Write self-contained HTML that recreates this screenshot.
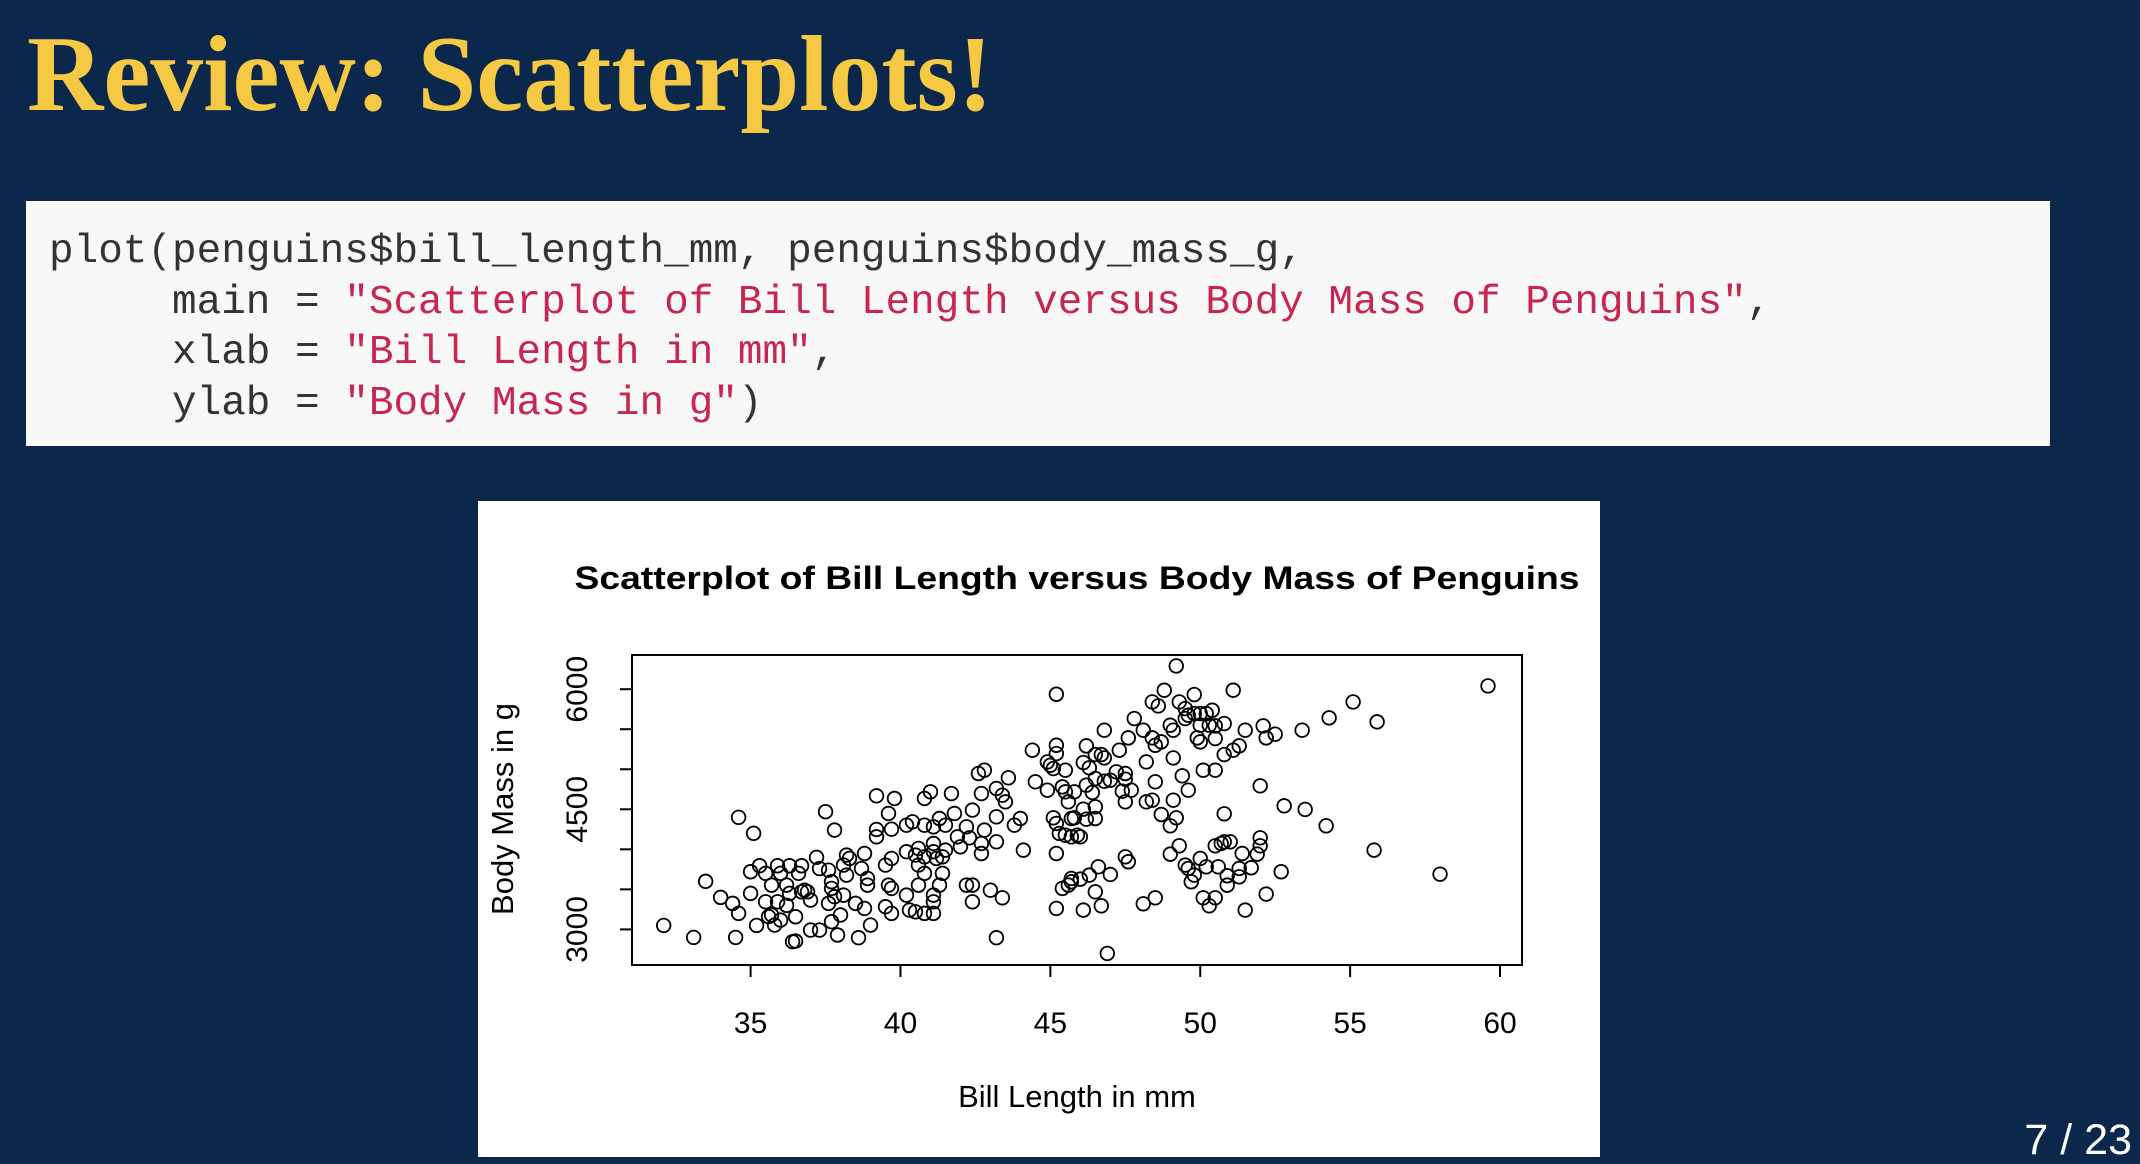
<!DOCTYPE html>
<html><head><meta charset="utf-8"><style>
html,body{margin:0;padding:0;background:#0b274b;}
svg{display:block}
.code text{white-space:pre}
</style></head><body>
<svg id="slide" width="2140" height="1164" viewBox="0 0 2140 1164" xmlns="http://www.w3.org/2000/svg">
<rect x="0" y="0" width="2140" height="1164" fill="#0b274b"/>
<text x="27" y="110" font-family="Liberation Serif, serif" font-weight="bold" font-size="108" fill="#f6c944" textLength="966" lengthAdjust="spacingAndGlyphs">Review: Scatterplots!</text>
<g>
<rect x="26" y="201" width="2024" height="245" fill="#f8f8f8"/>
<g class="code" font-family="Liberation Mono, monospace" font-size="41" fill="#333333">
<text x="49" y="262">plot(penguins$bill_length_mm, penguins$body_mass_g,</text>
<text x="172" y="313">main = <tspan fill="#c9264f">"Scatterplot of Bill Length versus Body Mass of Penguins"</tspan>,</text>
<text x="172" y="363">xlab = <tspan fill="#c9264f">"Bill Length in mm"</tspan>,</text>
<text x="172" y="414">ylab = <tspan fill="#c9264f">"Body Mass in g"</tspan>)</text>
</g>
</g>
<g id="chart">
<rect x="478" y="501" width="1122" height="656" fill="#ffffff"/>
<text x="1077" y="589" text-anchor="middle" font-family="Liberation Sans, sans-serif" font-weight="bold" font-size="32" fill="#000" textLength="1005" lengthAdjust="spacingAndGlyphs">Scatterplot of Bill Length versus Body Mass of Penguins</text>
<rect x="632" y="655" width="890" height="310" fill="none" stroke="#000" stroke-width="2"/>
<g id="xaxis"></g>
<g id="yaxis"></g>
<g id="points"></g>
<text x="1077" y="1107" text-anchor="middle" font-family="Liberation Sans, sans-serif" font-size="31" fill="#000">Bill Length in mm</text>
<text transform="translate(513,809) rotate(-90)" text-anchor="middle" font-family="Liberation Sans, sans-serif" font-size="31" fill="#000">Body Mass in g</text>
</g>
<text x="2132" y="1154" text-anchor="end" font-family="Liberation Sans, sans-serif" font-size="43" fill="#ffffff">7 / 23</text>
</svg>
<script>
const xTicks = [35, 40, 45, 50, 55, 60];
const yTicks = [3000, 3500, 4000, 4500, 5000, 5500, 6000];
const yTickLabels = ["3000", "", "", "4500", "", "", "6000"];
const billLength = [
32.1,33.1,33.5,34.0,34.4,34.6,34.5,34.6,35.1,35.0,35.0,35.2,35.3,35.5,35.5,35.7,35.6,35.7,35.9,36.0,
35.9,35.8,36.0,36.2,36.2,36.3,36.3,36.4,36.5,36.5,36.6,36.7,36.7,36.8,36.9,37.0,37.0,37.3,37.2,37.3,
37.5,37.8,37.6,37.7,37.7,37.8,37.6,37.7,37.9,38.0,38.2,38.3,38.1,38.2,38.1,38.5,38.6,38.7,38.8,38.8,
38.9,38.9,39.0,39.2,39.6,39.8,39.2,39.2,39.7,39.5,39.7,39.6,39.7,39.5,39.7,40.2,40.4,40.2,40.2,40.3,
40.5,40.6,40.6,40.5,40.6,40.8,40.8,41.0,41.1,41.3,41.5,41.7,41.8,40.8,40.8,41.1,41.1,41.2,41.4,41.3,
41.1,41.1,40.8,41.1,41.5,41.4,41.9,42.0,42.2,42.3,42.4,42.6,42.8,42.7,42.8,42.7,42.7,42.4,42.2,42.4,
43.0,43.4,43.2,43.2,43.2,43.2,43.4,43.5,43.6,43.8,44.0,44.1,44.4,44.5,44.9,45.0,45.1,45.2,45.2,45.2,
45.5,44.9,45.4,45.5,45.6,45.1,45.2,45.7,45.3,45.5,45.7,45.2,45.4,45.6,45.7,45.2,
49.2,59.6,48.8,51.1,49.8,48.4,48.6,49.3,49.5,49.6,49.5,49.8,50.0,50.2,50.4,50.0,50.3,50.5,50.8,47.8,
46.8,48.1,49.0,49.1,47.6,48.4,48.7,48.5,49.9,50.0,50.5,51.5,52.1,52.2,52.5,53.4,54.3,55.1,55.9,51.3,
51.1,50.8,50.1,50.5,46.2,46.5,46.7,46.8,47.3,46.1,46.3,48.2,49.1,47.2,47.5,47.5,46.5,46.8,47.0,48.5,
49.4,49.6,46.2,45.8,46.4,47.4,47.7,47.5,48.2,48.4,49.1,46.1,46.5,45.8,46.2,46.5,48.7,49.2,49.0,45.9,
46.0,52.0,50.8,52.8,53.5,54.2,55.8,58.0,47.5,47.6,49.0,49.3,49.5,49.6,50.0,50.2,50.5,50.7,50.8,51.0,
50.6,51.4,52.0,52.0,51.9,51.7,51.3,51.3,50.9,50.9,49.8,49.7,52.7,52.2,50.1,50.5,50.3,51.5,48.5,48.1,
46.6,46.3,47.0,46.0,45.7,46.5,46.7,46.1,46.9
];
const bodyMass = [
3050,2900,3600,3400,3325,3200,2900,4400,4200,3720,3450,3050,3795,3700,3345,3553,3160,3180,3795,3700,
3345,3054,3116,3553,3300,3795,3450,2846,2854,3158,3700,3795,3470,3490,3470,3366,2992,2992,3900,3760,
4470,4240,3740,3595,3512,3408,3325,3096,2930,3180,3928,3886,3803,3678,3428,3325,2896,3760,3948,3262,
3636,3553,3054,4668,4448,4635,4248,4156,4252,3803,3886,3553,3512,3283,3200,4302,4344,3970,3428,3241,
3220,3553,3803,3928,4011,4302,4635,4718,4281,4385,4302,4697,4448,3700,3907,4073,3970,3886,3700,3553,
3428,3345,3200,3200,3990,3907,4156,4032,4281,4144,4490,4947,4989,4697,4240,4073,3948,3553,3553,3345,
3490,3395,2896,4094,4406,4760,4676,4593,4893,4302,4385,3990,5238,4843,5092,5050,5009,5300,5196,5937,
4989,4739,4780,4718,4593,4394,4323,4385,4198,4177,4156,3948,3512,3553,3636,3262,
6291,6041,5987,5987,5933,5841,5791,5841,5758,5675,5633,5696,5696,5696,5737,5550,5550,5542,5571,5633,
5488,5488,5550,5488,5392,5392,5342,5300,5392,5342,5384,5488,5542,5392,5438,5488,5642,5841,5592,5292,
5238,5184,4988,4988,5292,5184,5184,5142,5238,5084,5018,5092,5142,4968,4947,4876,4884,4851,4864,4843,
4918,4739,4801,4718,4710,4726,4739,4593,4593,4614,4614,4502,4531,4394,4377,4385,4435,4394,4294,4177,
4156,4793,4444,4543,4498,4294,3990,3690,3907,3845,3940,4044,3803,3761,3886,3782,4044,4073,4094,4094,
3782,3948,4144,4044,3940,3770,3761,3657,3670,3553,3678,3595,3720,3441,3395,3395,3295,3241,3395,3320,
3782,3678,3686,3628,3595,3470,3295,3241,2700
];
const NS = "http://www.w3.org/2000/svg";
function xScale(v){ return 750.6 + (v - 35) * (1500 - 750.6) / 25; }
function yScale(v){ return 929.4 - (v - 3000) * (929.4 - 689.2) / 3000; }
function mk(tag, attrs){ const e = document.createElementNS(NS, tag); for (const k in attrs) e.setAttribute(k, attrs[k]); return e; }
const xg = document.getElementById('xaxis');
const xl = mk('line', {x1: xScale(xTicks[0]), x2: xScale(xTicks[xTicks.length-1]), y1: 965, y2: 965, stroke: '#000', 'stroke-width': 2});


xg.appendChild(xl);
xTicks.forEach(t => {
  const tk = mk('line', {x1: xScale(t), x2: xScale(t), y1: 965, y2: 977, stroke: '#000', 'stroke-width': 2});
  
  
  xg.appendChild(tk);
  const lb = mk('text', {x: xScale(t), y: 1033, 'text-anchor': 'middle', 'font-family': 'Liberation Sans, sans-serif', 'font-size': 30, fill: '#000'});
  lb.textContent = String(t);
  
  
  xg.appendChild(lb);
});
const yg = document.getElementById('yaxis');
const yl = mk('line', {x1: 632, x2: 632, y1: yScale(yTicks[0]), y2: yScale(yTicks[yTicks.length-1]), stroke: '#000', 'stroke-width': 2});


yg.appendChild(yl);
yTicks.forEach((t, i) => {
  const tk = mk('line', {x1: 620, x2: 632, y1: yScale(t), y2: yScale(t), stroke: '#000', 'stroke-width': 2});
  
  
  yg.appendChild(tk);
  if (yTickLabels[i]) {
    const lb = mk('text', {transform: 'translate(587,' + yScale(t) + ') rotate(-90)', 'text-anchor': 'middle', 'font-family': 'Liberation Sans, sans-serif', 'font-size': 30, fill: '#000'});
    lb.textContent = yTickLabels[i];
    
    
    yg.appendChild(lb);
  }
});
const pg = document.getElementById('points');
billLength.forEach((b, i) => {
  const c = mk('circle', {cx: xScale(b), cy: yScale(bodyMass[i]), r: 6.8, fill: 'none', stroke: '#000', 'stroke-width': 1.8});
  
  
  pg.appendChild(c);
});
</script>
</body></html>
